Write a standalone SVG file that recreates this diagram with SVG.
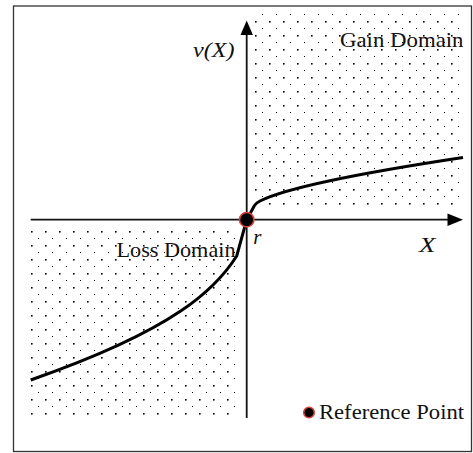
<svg xmlns="http://www.w3.org/2000/svg" width="473" height="453" viewBox="0 0 473 453">
  <style>
    .lbl { font-family: "Liberation Serif", "Times New Roman", serif; font-size: 21px; fill: #111; }
    .it { font-style: italic; }
    .axis { stroke: #111; stroke-width: 1.8; fill: none; }
    .curve { stroke: #000; stroke-width: 3; fill: none; stroke-linejoin: round; stroke-linecap: butt; }
    .refpt { fill: #000; stroke: #d8453b; stroke-width: 1.6; }
  </style>
  <defs>
    <pattern id="dots" patternUnits="userSpaceOnUse" x="0" y="0" width="14" height="14">
      <rect x="3" y="7" width="1.6" height="1.6" fill="#000"/>
      <rect x="10" y="0" width="1" height="1" fill="#000"/>
    </pattern>
  </defs>
  <rect x="0" y="0" width="473" height="453" fill="#fff"/>
  <g id="frame">
    <rect x="13.5" y="6" width="458" height="445.5" fill="none" stroke="#333" stroke-width="1.3"/>
  </g>
  <g id="gain-region">
    <rect x="253" y="11" width="210" height="195" fill="url(#dots)"/>
  </g>
  <g id="loss-region">
    <rect x="29" y="228" width="209" height="189" fill="url(#dots)"/>
  </g>
  <g id="connectors">
    <line class="axis" x1="246.7" y1="418" x2="246.7" y2="33"/>
    <polygon points="246.7,20.5 240.5,35 252.9,35" fill="#000"/>
    <line class="axis" x1="30.7" y1="219.7" x2="449" y2="219.7"/>
    <polygon points="463,219.7 447.5,213.5 447.5,225.9" fill="#000"/>
    <path class="curve" d="M246.7 219.7 L254.5 205.5 Q256.5 202.7 260 201 C290 186 390 168.5 463 157.5"/>
    <path class="curve" d="M246.7 219.7 L236.7 256 C216.7 287.4 178 328.8 30.7 380"/>
  </g>
  <g id="reference-point">
    <circle class="refpt" cx="246.7" cy="219.7" r="7.2"/>
  </g>
  <g id="labels">
    <text class="lbl it" x="193" y="57" textLength="41.5" lengthAdjust="spacingAndGlyphs">v(X)</text>
    <text class="lbl" x="340" y="46.5" textLength="123.5" lengthAdjust="spacingAndGlyphs">Gain Domain</text>
    <text class="lbl" x="116.5" y="257.3" textLength="119" lengthAdjust="spacingAndGlyphs">Loss Domain</text>
    <text class="lbl it" x="253.3" y="244">r</text>
    <text class="lbl it" x="419" y="251.7" textLength="16.5" lengthAdjust="spacingAndGlyphs">X</text>
  </g>
  <g id="legend">
    <circle class="refpt" cx="309" cy="412.5" r="5.3"/>
    <text class="lbl" x="319" y="418.5" textLength="145" lengthAdjust="spacingAndGlyphs">Reference Point</text>
  </g>
</svg>
